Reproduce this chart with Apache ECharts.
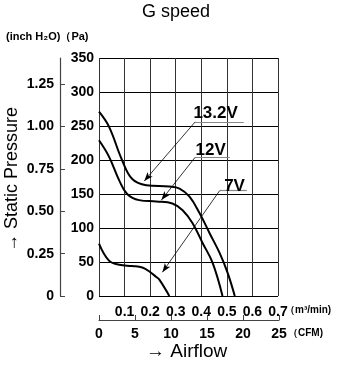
<!DOCTYPE html>
<html>
<head>
<meta charset="utf-8">
<script src="https://cdn.jsdelivr.net/npm/echarts@6/dist/echarts.min.js"></script>
<style>
  html, body { margin: 0; padding: 0; background: #fff; }
  #main { width: 352px; height: 365px; }
</style>
</head>
<body>
<div id="main"></div>
<script>
// curve points: [airflow m3/min, static pressure Pa]
var v132 = [[0, 271], [0.039, 249], [0.09, 200], [0.13, 172], [0.185, 163], [0.275, 161], [0.315, 158], [0.354, 146], [0.393, 122], [0.433, 92], [0.472, 63], [0.503, 34], [0.531, 0]];
var v12 = [[0, 229], [0.039, 205], [0.079, 170], [0.11, 150], [0.157, 141], [0.224, 139], [0.287, 136], [0.327, 126], [0.366, 107], [0.405, 78], [0.444, 49], [0.483, 0]];
var v7 = [[0, 77], [0.039, 52], [0.079, 46], [0.13, 44], [0.169, 42], [0.197, 36], [0.224, 28], [0.236, 24], [0.275, 0]];

// label, text position, underline from/to, arrow tip
var notes = [
    { name: '13.2V', text: [0.456, 268], from: [0.376, 256], to: [0.566, 256], tip: [0.177, 169] },
    { name: '12V', text: [0.437, 214], from: [0.376, 204], to: [0.511, 204], tip: [0.244, 141] },
    { name: '7V', text: [0.53, 162], from: [0.472, 155], to: [0.578, 155], tip: [0.248, 35] }
];

var PA_PER_INCH = 249.089;
var FONT = '"Liberation Sans Narrow", "Liberation Sans", Arial, sans-serif';

var myChart = echarts.init(document.getElementById('main'));

var series = [];
var curves = [v132, v12, v7];
for (let i = 0; i < curves.length; i++) {
    series.push({
        type: 'line',
        data: curves[i],
        smooth: 0.4,
        symbol: 'none',
        lineStyle: { color: '#000', width: 2 },
        silent: true
    });
}

// annotations
let lines = [];
let texts = [];
for (let j = 0; j < notes.length; j++) {
    lines.push([{ coord: notes[j].from, symbol: 'none', lineStyle: { color: '#888', width: 1.2 } }, { coord: notes[j].to, symbol: 'none' }]);
    lines.push([{ coord: notes[j].from, symbol: 'none' }, { coord: notes[j].tip, symbol: 'arrow', symbolSize: [5, 9] }]);
    texts.push({ coord: notes[j].text, value: notes[j].name });
}
series.push({
    type: 'line',
    data: [],
    markLine: {
        silent: true,
        animation: false,
        label: { show: false },
        lineStyle: { color: '#000', width: 0.8, type: 'solid' },
        data: lines
    },
    markPoint: {
        silent: true,
        animation: false,
        symbol: 'circle',
        symbolSize: 1,
        itemStyle: { color: 'transparent' },
        label: {
            show: true,
            position: 'inside',
            formatter: '{c}',
            color: '#000',
            fontFamily: FONT,
            fontSize: 17,
            fontWeight: 'bold'
        },
        data: texts
    }
});

var option = {
    animation: false,
    textStyle: { fontFamily: FONT },
    grid: [
        { left: 99, top: 58, width: 179, height: 238 },
        { left: 99, top: 320, width: 180, height: 0 },
        { left: 60, top: 58, width: 1, height: 238 }
    ],
    xAxis: [
        {
            gridIndex: 0, type: 'value', min: 0, max: 0.7, interval: 0.1,
            axisLine: { show: false },
            axisTick: { show: false },
            splitLine: { show: true, lineStyle: { color: '#333', width: 1 } },
            axisLabel: {
                margin: 9, color: '#000', fontSize: 14, fontWeight: 'bold', fontFamily: FONT,
                formatter: function (v) { return v === 0 ? '' : v.toFixed(1); }
            }
        },
        {
            gridIndex: 1, type: 'value', min: 0, max: 25, interval: 5,
            axisLine: { show: true, lineStyle: { color: '#444', width: 1.2 } },
            axisTick: { show: true, inside: true, length: 5, lineStyle: { color: '#444' } },
            splitLine: { show: false },
            axisLabel: { margin: 7, color: '#000', fontSize: 14, fontWeight: 'bold', fontFamily: FONT }
        },
        { gridIndex: 2, type: 'value', show: false, min: 0, max: 1 }
    ],
    yAxis: [
        {
            gridIndex: 0, type: 'value', min: 0, max: 350, interval: 50,
            axisLine: { show: false },
            axisTick: { show: false },
            splitLine: { show: true, lineStyle: { color: '#000', width: 1 } },
            axisLabel: { margin: 5, color: '#000', fontSize: 14, fontWeight: 'bold', fontFamily: FONT }
        },
        { gridIndex: 1, type: 'value', show: false, min: 0, max: 1 },
        {
            gridIndex: 2, type: 'value', min: 0, max: 350 / PA_PER_INCH, interval: 0.25,
            axisLine: { show: true, lineStyle: { color: '#444', width: 1.2 } },
            axisTick: { show: true, inside: true, length: 5, lineStyle: { color: '#444' } },
            splitLine: { show: false },
            axisLabel: {
                margin: 6, color: '#000', fontSize: 14, fontWeight: 'bold', fontFamily: FONT,
                showMaxLabel: false,
                formatter: function (v) { return v === 0 ? '0' : v.toFixed(2); }
            }
        }
    ],
    graphic: [
        { type: 'text', left: 'center', top: 3, style: { text: 'G speed', font: '18px "Liberation Sans Narrow", "Liberation Sans", sans-serif', fill: '#000' }, x: 14 },
        { type: 'text', left: 6, top: 31, style: { text: '(inch H₂O)（Pa)', font: 'bold 11px "Liberation Sans Narrow", "Liberation Sans", sans-serif', fill: '#000' } },
        { type: 'text', left: 285, top: 305, style: { text: '（m³/min)', font: 'bold 10px "Liberation Sans Narrow", "Liberation Sans", sans-serif', fill: '#000' } },
        { type: 'text', left: 288, top: 328, style: { text: '（CFM)', font: 'bold 10px "Liberation Sans Narrow", "Liberation Sans", sans-serif', fill: '#000' } },
        { type: 'text', left: 146, top: 342, style: { text: '→ Airflow', font: '19px "Liberation Sans", Arial, sans-serif', fill: '#000' } },
        {
            type: 'text', x: 3, y: 252, rotation: Math.PI / 2,
            style: { text: '→ Static Pressure', font: '18px "Liberation Sans", Arial, sans-serif', fill: '#000', textVerticalAlign: 'top' }
        }
    ],
    series: series
};

myChart.setOption(option);
</script>
</body>
</html>
